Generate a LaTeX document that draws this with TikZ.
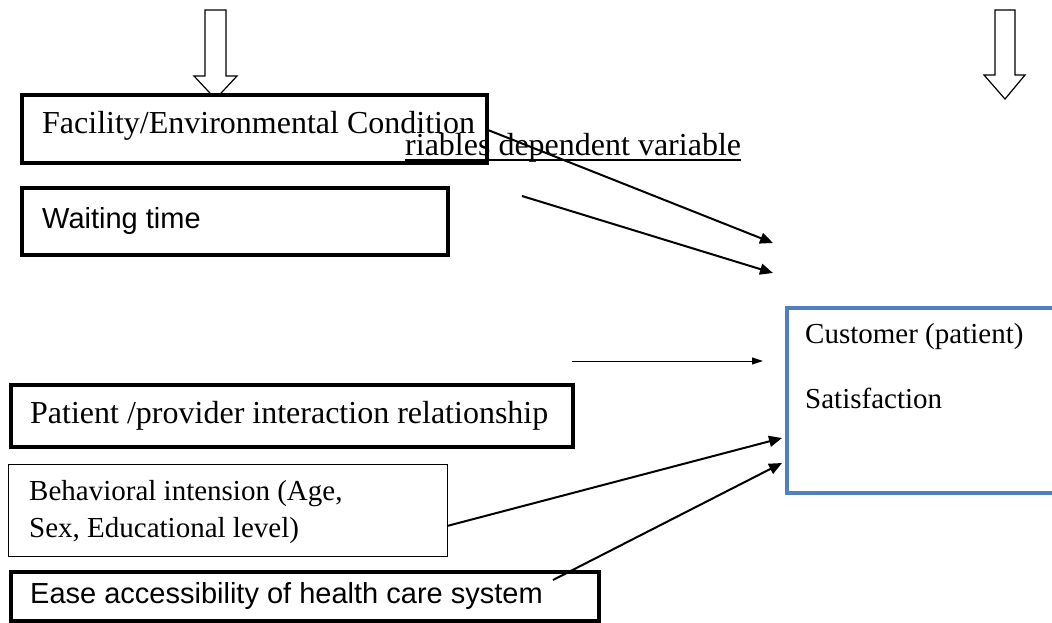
\documentclass[tikz,border=0pt]{standalone}
\usepackage{fontspec}
\setmainfont{Liberation Serif}
\newfontfamily\arialfont{Liberation Sans}
\usetikzlibrary{arrows.meta}
\definecolor{boxblue}{RGB}{79,129,189}
\tikzset{
  thickbox/.style={draw, line width=4pt, fill=white, inner sep=0pt, anchor=north west},
  thinbox/.style={draw, line width=1pt, fill=white, inner sep=0pt, anchor=north west},
  bluebox/.style={draw=boxblue, line width=4pt, fill=white, inner sep=0pt, anchor=north west},
  serifbig/.style={anchor=base west, inner sep=0pt, font=\fontsize{32}{38}\selectfont},
  serifmid/.style={anchor=base west, inner sep=0pt, font=\fontsize{29}{35}\selectfont},
  sanstext/.style={anchor=base west, inner sep=0pt, font=\arialfont\fontsize{29}{35}\selectfont},
  thickarrow/.style={line width=2pt, -{Triangle[length=13pt,width=11pt]}},
  thinarrow/.style={line width=1pt, -{Triangle[length=11pt,width=7pt]}},
  blockarrow/.style={draw, line width=1.2pt, fill=white, line join=miter}
}
\begin{document}
\begin{tikzpicture}[x=1pt,y=-1pt]
\useasboundingbox (0,0) rectangle (1052,622);
% block arrows
\draw[blockarrow] (205,10) -- (226,10) -- (226,76) -- (237,76) -- (215.5,99) -- (194,76) -- (205,76) -- cycle;
\draw[blockarrow] (995,10) -- (1015,10) -- (1015,75) -- (1025,75) -- (1005,99) -- (984,75) -- (995,75) -- cycle;
% boxes
\node[thickbox, minimum width=465pt, minimum height=68pt] (fac) at (20,93) {};
\node[thickbox, minimum width=426pt, minimum height=67pt] (wait) at (20,186) {};
\node[thickbox, minimum width=562pt, minimum height=62pt] (pat) at (9,383) {};
\node[thinbox, minimum width=439pt, minimum height=92pt] (beh) at (7.5,463.5) {};
\node[thickbox, minimum width=588pt, minimum height=49pt] (ease) at (9,570) {};
\node[bluebox, minimum width=285pt, minimum height=185pt] (cust) at (785,306) {};
% texts
\node[serifbig] (factext) at (42,133) {Facility/Environmental Condition};
\node[sanstext] (waittext) at (42,228) {Waiting time};
\node[serifbig] (rdv) at (405,155) {riables dependent variable};
\draw[line width=1.5pt] ([yshift=-5pt]rdv.base west) -- ([yshift=-5pt]rdv.base east);
\node[serifbig] (pattext) at (30,423) {Patient /provider interaction relationship};
\node[serifmid] (behtexta) at (29,500) {Behavioral intension (Age,};
\node[serifmid] (behtextb) at (29,537) {Sex, Educational level)};
\node[sanstext] (easetext) at (30,603) {Ease accessibility of health care system};
\node[serifmid] (custa) at (805,343) {Customer (patient)};
\node[serifmid] (custb) at (805,408) {Satisfaction};
% connector end points
\coordinate (a1s) at (488,130);
\coordinate (a1e) at (773,243);
\coordinate (a2s) at (522,196);
\coordinate (a2e) at (773,273);
\coordinate (a3s) at (572,361);
\coordinate (a3e) at (763,361);
\coordinate (a4s) at (447,526);
\coordinate (a4e) at (782,438);
\coordinate (a5s) at (553,580);
\coordinate (a5e) at (782,463);
\draw[thickarrow] (a1s) -- (a1e);
\draw[thickarrow] (a2s) -- (a2e);
\draw[thinarrow] (a3s) -- (a3e);
\draw[thickarrow] (a4s) -- (a4e);
\draw[thickarrow] (a5s) -- (a5e);
\end{tikzpicture}
\end{document}
